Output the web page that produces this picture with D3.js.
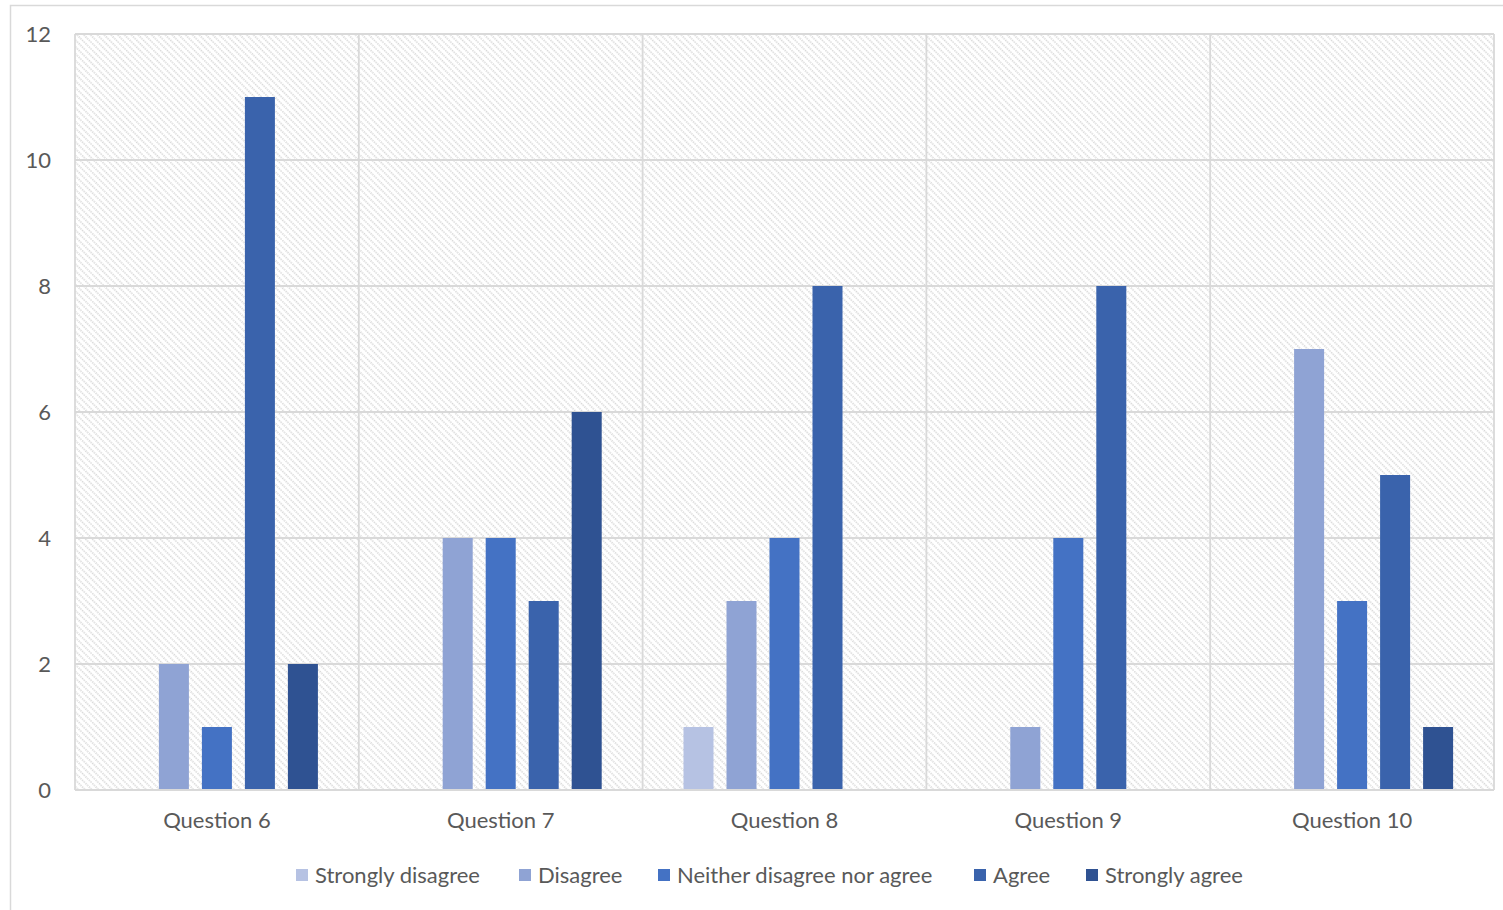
<!DOCTYPE html>
<html>
<head>
<meta charset="utf-8">
<script src="https://cdn.jsdelivr.net/npm/d3@7"></script>
<style>
  html, body { margin: 0; padding: 0; background: #ffffff; }
  svg { display: block; }
  text { font-family: Lato, "Open Sans", sans-serif; fill: #595959; }
</style>
</head>
<body>
<svg id="chart" width="1503" height="910"></svg>
<script>
const categories = ["Question 6", "Question 7", "Question 8", "Question 9", "Question 10"];
const seriesNames = ["Strongly disagree", "Disagree", "Neither disagree nor agree", "Agree", "Strongly agree"];
const stronglyDisagree = [0, 0, 1, 0, 0];
const disagree = [2, 4, 3, 1, 7];
const neither = [1, 4, 4, 4, 3];
const agree = [11, 3, 8, 8, 5];
const stronglyAgree = [2, 6, 0, 0, 1];
const yTicks = [0, 2, 4, 6, 8, 10, 12];
const colors = ["#b6c2e3", "#8fa3d4", "#4472c4", "#3a63ac", "#2f5292"];

const seriesValues = [stronglyDisagree, disagree, neither, agree, stronglyAgree];

const svg = d3.select("#chart");
const plot = { left: 75, right: 1494, top: 34, bottom: 790 };
const FS = 22;

// outer frame
svg.append("rect")
  .attr("x", 10.5).attr("y", 5.5)
  .attr("width", 1520).attr("height", 930)
  .attr("fill", "#ffffff").attr("stroke", "#d9d9d9").attr("stroke-width", 1.5);

// hatch pattern (lines running from upper-left to lower-right)
const defs = svg.append("defs");
const pat = defs.append("pattern")
  .attr("id", "hatch")
  .attr("patternUnits", "userSpaceOnUse")
  .attr("width", 4.8).attr("height", 4.8)
  .attr("patternTransform", "rotate(-45)");
pat.append("rect").attr("width", 4.8).attr("height", 4.8).attr("fill", "#ffffff");
pat.append("line")
  .attr("x1", 1).attr("y1", 0).attr("x2", 1).attr("y2", 4.8)
  .attr("stroke", "#d4d4d4").attr("stroke-width", 1.7)
  .attr("stroke-dasharray", "1.2,1.2");

const x0 = d3.scaleBand().domain(categories).range([plot.left, plot.right]).paddingInner(0).paddingOuter(0);
const x1 = d3.scaleBand().domain(seriesNames).range([0, x0.bandwidth()]).paddingInner(0.302).paddingOuter(0.951);
const y = d3.scaleLinear().domain([0, 12]).range([plot.bottom, plot.top]);

// plot background
svg.append("rect")
  .attr("x", plot.left).attr("y", plot.top)
  .attr("width", plot.right - plot.left).attr("height", plot.bottom - plot.top)
  .attr("fill", "url(#hatch)");

// horizontal gridlines
svg.append("g").selectAll("line").data(yTicks).join("line")
  .attr("x1", plot.left).attr("x2", plot.right)
  .attr("y1", d => y(d)).attr("y2", d => y(d))
  .attr("stroke", "#d9d9d9").attr("stroke-width", 1.8);

// vertical gridlines at category boundaries
const bounds = categories.map(c => x0(c)).concat([x0(categories[categories.length - 1]) + x0.bandwidth()]);
svg.append("g").selectAll("line").data(bounds).join("line")
  .attr("x1", d => d).attr("x2", d => d)
  .attr("y1", plot.top).attr("y2", plot.bottom)
  .attr("stroke", "#d9d9d9").attr("stroke-width", 1.8);

// bars
const groups = svg.append("g").selectAll("g").data(categories).join("g")
  .attr("transform", c => `translate(${x0(c)},0)`);
groups.selectAll("rect")
  .data((c, ci) => seriesNames.map((s, si) => ({ s, si, v: seriesValues[si][ci] })))
  .join("rect")
  .attr("x", d => x1(d.s))
  .attr("width", x1.bandwidth())
  .attr("y", d => y(d.v))
  .attr("height", d => y(0) - y(d.v))
  .attr("fill", d => colors[d.si]);

// baseline
svg.append("line")
  .attr("x1", plot.left).attr("x2", plot.right)
  .attr("y1", y(0)).attr("y2", y(0))
  .attr("stroke", "#d9d9d9").attr("stroke-width", 1.8);

// y axis labels
const yAxis = d3.axisLeft(y).tickValues(yTicks).tickSize(0).tickPadding(0);
const yg = svg.append("g").attr("transform", `translate(51,0)`).call(yAxis);
yg.select(".domain").remove();
yg.selectAll("text")
  .attr("font-size", FS).attr("fill", "#595959")
  .style("font-family", "Lato, 'Open Sans', sans-serif");

// x axis labels
const xAxis = d3.axisBottom(x0).tickSize(0).tickPadding(0);
const xg = svg.append("g").attr("transform", `translate(0,${plot.bottom + 22})`).call(xAxis);
xg.select(".domain").remove();
xg.selectAll("text")
  .attr("font-size", FS).attr("fill", "#595959")
  .style("font-family", "Lato, 'Open Sans', sans-serif");

// legend
const legendX = [296, 519, 658, 974, 1086];
const lg = svg.append("g").selectAll("g").data(seriesNames).join("g")
  .attr("transform", (d, i) => `translate(${legendX[i]},875)`);
lg.append("rect").attr("x", 0).attr("y", -6).attr("width", 12).attr("height", 12)
  .attr("fill", (d, i) => colors[i]);
lg.append("text").attr("x", 19).attr("y", 0).attr("dy", "0.35em")
  .attr("font-size", FS).text(d => d);
</script>
</body>
</html>
